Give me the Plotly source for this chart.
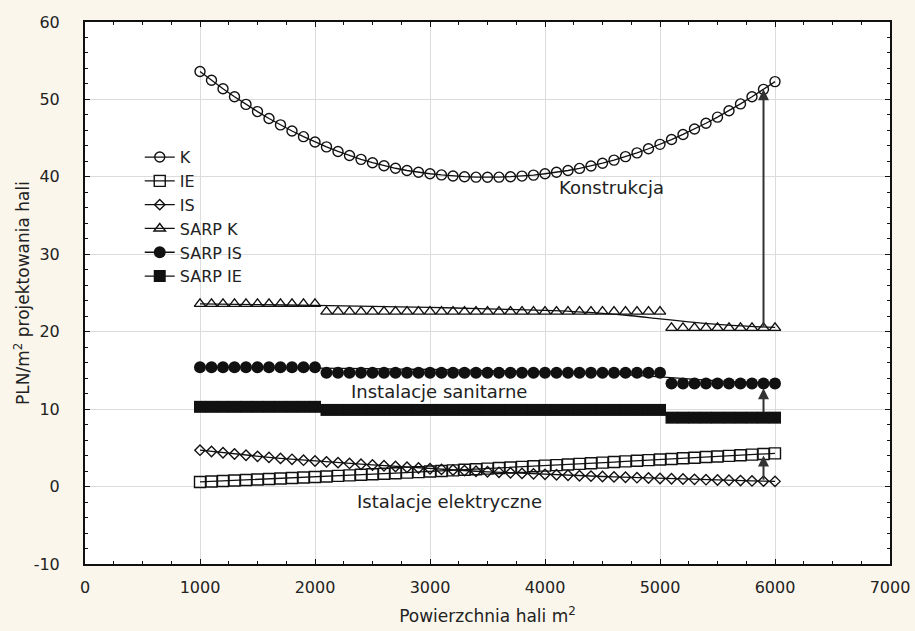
import plotly.graph_objects as go

area = list(range(1000, 6001, 100))

K = [53.60, 52.47, 51.38, 50.35, 49.36, 48.43, 47.54, 46.71, 45.92, 45.19,
     44.50, 43.87, 43.28, 42.75, 42.26, 41.83, 41.44, 41.11, 40.82, 40.59,
     40.40, 40.25, 40.12, 40.02, 39.96, 39.94, 39.96, 40.02, 40.10, 40.22,
     40.40, 40.59, 40.82, 41.09, 41.40, 41.76, 42.16, 42.61, 43.10, 43.63,
     44.20, 44.82, 45.48, 46.18, 46.92, 47.71, 48.54, 49.42, 50.34, 51.30,
     52.30]

IE = [0.60, 0.66, 0.72, 0.78, 0.84, 0.91, 0.97, 1.04, 1.10, 1.17,
      1.24, 1.31, 1.38, 1.45, 1.52, 1.59, 1.66, 1.73, 1.80, 1.87,
      1.95, 2.02, 2.09, 2.17, 2.24, 2.32, 2.39, 2.47, 2.54, 2.62,
      2.70, 2.77, 2.85, 2.93, 3.01, 3.09, 3.17, 3.25, 3.33, 3.41,
      3.49, 3.57, 3.65, 3.73, 3.81, 3.89, 3.97, 4.05, 4.13, 4.21,
      4.29]

IS = [4.70, 4.53, 4.37, 4.21, 4.05, 3.90, 3.77, 3.64, 3.52, 3.41,
      3.30, 3.19, 3.09, 2.99, 2.89, 2.79, 2.69, 2.59, 2.49, 2.40,
      2.31, 2.22, 2.14, 2.06, 1.98, 1.91, 1.84, 1.77, 1.70, 1.64,
      1.58, 1.52, 1.46, 1.40, 1.35, 1.30, 1.25, 1.20, 1.15, 1.10,
      1.05, 1.01, 0.97, 0.93, 0.89, 0.85, 0.81, 0.77, 0.73, 0.70,
      0.67]

SARP_K = [23.6] * 11 + [22.6] * 30 + [20.5] * 10
SARP_IS = [15.4] * 11 + [14.7] * 30 + [13.3] * 10
SARP_IE = [10.3] * 11 + [9.9] * 30 + [8.9] * 10

# fitted smooth curves for SARP series
fit_x = [1000, 1500, 2000, 2500, 3000, 3500, 4000, 4250, 4500, 4750, 5000, 5250, 5500, 5750, 6000]
SARP_K_fit = [23.6, 23.5, 23.4, 23.28, 23.14, 22.96, 22.75, 22.6, 22.38, 22.06, 21.66, 21.28, 20.96, 20.72, 20.55]
SARP_IS_fit = [15.4, 15.36, 15.3, 15.22, 15.12, 14.98, 14.82, 14.72, 14.58, 14.4, 14.16, 13.9, 13.66, 13.48, 13.38]

labels = ["K", "IE", "IS", "SARP K", "SARP IS", "SARP IE"]

y_tick_vals = [-10, 0, 10, 20, 30, 40, 50, 60]
y_tick_text = ["-10", "0", "10", "20", "30", "40", "50", "60"]

INK = "#111111"
FONT = "DejaVu Sans, Verdana, sans-serif"
TXT = "#222222"
fig = go.Figure()

def mk(symbol, size):
    return dict(symbol=symbol, size=size, color=INK, line=dict(color=INK, width=1.4))

markers = {
    "K": mk("circle-open", 10),
    "IE": mk("square-open", 11),
    "IS": mk("diamond-open", 8),
    "SARP K": mk("triangle-up-open", 10),
    "SARP IS": dict(symbol="circle", size=12, color=INK),
    "SARP IE": dict(symbol="square", size=12, color=INK),
}

# fitted lines
for fy in (SARP_K_fit, SARP_IS_fit):
    fig.add_trace(go.Scatter(x=fit_x, y=fy, mode="lines",
                             line=dict(color=INK, width=1.3, shape="spline"),
                             showlegend=False, hoverinfo="skip"))

series = {"K": K, "IE": IE, "IS": IS, "SARP K": SARP_K, "SARP IS": SARP_IS, "SARP IE": SARP_IE}
for name in ["SARP IE", "SARP IS", "SARP K", "IE", "IS", "K"]:
    mode = "lines+markers" if name in ("K", "IE", "IS") else "markers"
    fig.add_trace(go.Scatter(x=area, y=series[name], mode=mode, name=name,
                             line=dict(color=INK, width=1.3),
                             marker=markers[name], showlegend=False))

# legend keys
for name in labels:
    fig.add_trace(go.Scatter(x=[None], y=[None], mode="lines+markers", name=name,
                             line=dict(color=INK, width=1.3), marker=markers[name]))

# arrows at x = 5900
i = area.index(5900)
ARROW = "#333333"
for tail, head in [(SARP_K[i], K[i]), (SARP_IE[i] + 0.5, SARP_IS[i] - 0.6), (IS[i], IE[i] - 0.2)]:
    fig.add_annotation(x=area[i], y=head, ax=area[i], ay=tail, xref="x", yref="y",
                       axref="x", ayref="y", text="", showarrow=True,
                       arrowhead=2, arrowsize=1.1, arrowwidth=2, arrowcolor=ARROW)

for txt, x, y in [("Konstrukcja", 4580, 38.6), ("Instalacje sanitarne", 3080, 12.3),
                  ("Istalacje elektryczne", 3170, -1.9)]:
    fig.add_annotation(x=x, y=y, text=txt, showarrow=False,
                       font=dict(family=FONT, size=18, color=TXT))

axis_common = dict(showline=True, linecolor=INK, linewidth=2, mirror="allticks",
                   ticks="inside", ticklen=5, tickwidth=1.2, tickcolor=INK,
                   showgrid=True, gridcolor="#DCDCDC", gridwidth=1, zeroline=False,
                   automargin=False,
                   tickfont=dict(family=FONT, size=16, color=TXT),
                   title_font=dict(family=FONT, size=17, color=TXT))

fig.update_xaxes(range=[0, 7000], dtick=1000, tick0=0,
                 minor=dict(dtick=250, ticks="inside", ticklen=3, tickcolor=INK, showgrid=False),
                 title_text="Powierzchnia hali m<sup>2</sup>", title_standoff=14,
                 ticklabelstandoff=8, **axis_common)
fig.update_yaxes(range=[-10, 60], tickvals=y_tick_vals, ticktext=y_tick_text,
                 minor=dict(dtick=2, tick0=0, ticks="inside", ticklen=3, tickcolor=INK, showgrid=False),
                 title_text="PLN/m<sup>2</sup> projektowania hali", title_standoff=0,
                 ticklabelstandoff=20, **axis_common)

fig.update_layout(
    width=915, height=631,
    margin=dict(l=85, r=25, t=22, b=67),
    paper_bgcolor="#FBF6EC", plot_bgcolor="#FFFFFF",
    legend=dict(x=0.068, y=0.782, xanchor="left", yanchor="top",
                bgcolor="rgba(0,0,0,0)", tracegroupgap=0,
                font=dict(family=FONT, size=16, color=TXT)),
    font=dict(family=FONT, color=TXT),
)

fig.write_html("out.html", config={"displayModeBar": False},
               post_script="document.body.style.margin='0px';document.body.style.padding='0px';")
